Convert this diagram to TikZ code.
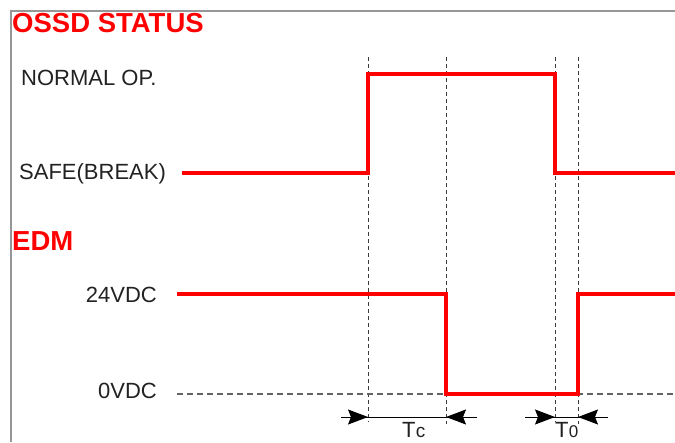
\documentclass[tikz,border=0pt]{standalone}
\usepackage{fontspec}
\setmainfont{Liberation Sans}
\usetikzlibrary{arrows.meta}
\definecolor{sigred}{RGB}{255,0,0}
\definecolor{txt}{RGB}{34,34,34}
\definecolor{frame}{RGB}{150,150,150}
\definecolor{dsh}{RGB}{60,60,60}
\tikzset{
  signal/.style={draw=sigred, line width=4.5pt, line join=miter},
  guide/.style={draw=dsh, line width=0.9pt, dash pattern=on 4pt off 3pt},
  zeroline/.style={draw=dsh!80, line width=1.4pt, dash pattern=on 6pt off 4pt},
  title/.style={text=sigred, font=\fontsize{27.5}{27.5}\selectfont\bfseries, inner sep=0pt},
  lbl/.style={text=txt, font=\fontsize{22}{22}\selectfont, inner sep=0pt},
  dim/.style={draw=black, line width=1pt},
  tip/.style={-{Stealth[length=20pt,width=15pt,inset=3pt]}, draw=black, fill=black, line width=1pt}
}
\begin{document}
\begin{tikzpicture}[x=1pt,y=-1pt]
\useasboundingbox (0,0) rectangle (675,442);
\fill[white] (0,0) rectangle (675,442);
% frame
\draw[frame, line width=1.6pt] (11,442) -- (11,11) -- (675,11);
% titles
\node[title, anchor=base west] (ossd) at (12,32) {OSSD STATUS};
\node[title, anchor=base west] (edm) at (12,250) {EDM};
% labels
\node[lbl, anchor=base west] (normal) at (21,85) {NORMAL OP.};
\node[lbl, anchor=base west] (safe) at (19,179) {SAFE(BREAK)};
\node[lbl, anchor=base east] (v24) at (157,302) {24VDC};
\node[lbl, anchor=base east] (v0) at (157,398) {0VDC};
% coordinates
\coordinate (a1) at (368,57);  \coordinate (a2) at (368,422);
\coordinate (b1) at (446,57);  \coordinate (b2) at (446,424);
\coordinate (c1) at (555,57);  \coordinate (c2) at (555,422);
\coordinate (d1) at (578,57);  \coordinate (d2) at (578,424);
% guides
\draw[guide] (a1) -- (a2);
\draw[guide] (b1) -- (b2);
\draw[guide] (c1) -- (c2);
\draw[guide] (d1) -- (d2);
\coordinate (z0) at (177,394); \coordinate (z1) at (675,394);
\draw[zeroline] (z0) -- (z1);
% OSSD signal
\draw[signal] (182,173) -- (368,173) -- (368,74) -- (555,74) -- (555,173) -- (676,173);
% EDM signal
\draw[signal] (177,294) -- (446,294) -- (446,394) -- (578,394) -- (578,294) -- (676,294);
% dimension Tc
\coordinate (tcl) at (341,417); \coordinate (tca) at (368,417);
\coordinate (tcb) at (446,417); \coordinate (tcr) at (477,417);
\draw[dim] (tcl) -- (tcr);
\draw[tip] (tcl) -- (tca);
\draw[tip] (tcr) -- (tcb);
\node[lbl, anchor=base west] (tc) at (402,437) {T\kern0.3pt{\fontsize{19}{19}\selectfont c}};
% dimension T0
\coordinate (t0l) at (525,417); \coordinate (t0a) at (555,417);
\coordinate (t0b) at (578,417); \coordinate (t0r) at (608,417);
\draw[dim] (t0l) -- (t0r);
\draw[tip] (t0l) -- (t0a);
\draw[tip] (t0r) -- (t0b);
\node[lbl, anchor=base west] (t0) at (555,437) {T\kern0.3pt{\fontsize{17}{17}\selectfont 0}};
\end{tikzpicture}
\end{document}
